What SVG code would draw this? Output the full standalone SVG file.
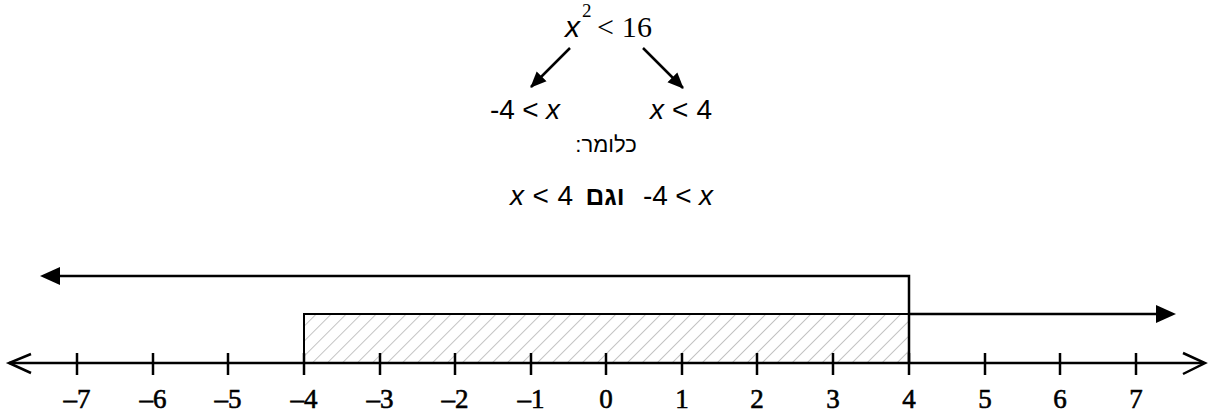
<svg xmlns="http://www.w3.org/2000/svg" width="1208" height="412" viewBox="0 0 1208 412">
<style>
.ln{stroke:#000;stroke-width:2.5;fill:none}
.sans{font-family:"Liberation Sans",Arial,"DejaVu Sans",sans-serif;font-size:28px;fill:#000}
.serif{font-family:"Liberation Serif","Times New Roman",serif;fill:#000}
.it{font-style:italic}
.num{font-family:"Liberation Serif","Times New Roman",serif;font-size:27px;text-anchor:middle;fill:#000;stroke:#000;stroke-width:0.6}
.heb{font-family:"Liberation Sans","DejaVu Sans",sans-serif;fill:#000}
</style>
<defs>
<marker id="ahs" markerWidth="16" markerHeight="16" refX="15" refY="8" orient="auto" markerUnits="userSpaceOnUse" viewBox="0 0 16 16">
<path d="M0,1 L16,8 L0,15 z" fill="#000"/>
</marker>
<pattern id="hatch" width="10.6" height="10.6" patternUnits="userSpaceOnUse" patternTransform="rotate(45)">
<line x1="0" y1="0" x2="0" y2="10.6" stroke="#8a8a8a" stroke-width="1"/>
</pattern>
</defs>

<g id="top-expr">
<text class="sans it" x="565" y="37" style="font-size:30px">x</text>
<text class="serif" x="582" y="17" style="font-size:19px">2</text>
<text class="serif" x="597" y="37" style="font-size:30px" textLength="55" lengthAdjust="spacing">&lt; 16</text>
</g>
<g id="left-expr">
<text class="sans" x="490" y="119" textLength="70" lengthAdjust="spacing">-4 &lt; <tspan class="it">x</tspan></text>
</g>
<g id="right-expr">
<text class="sans" x="650" y="119" textLength="62" lengthAdjust="spacing"><tspan class="it">x</tspan> &lt; 4</text>
</g>
<g id="meaning">
<text class="heb" x="606" y="152" style="font-size:22px" text-anchor="middle" direction="rtl">כלומר:</text>
</g>
<g id="conclusion">
<text class="sans" x="510" y="205" textLength="63" lengthAdjust="spacing"><tspan class="it">x</tspan> &lt; 4</text>
<text class="heb" x="605" y="205" style="font-size:26px;font-weight:bold" text-anchor="middle" direction="rtl">וגם</text>
<text class="sans" x="643" y="205" textLength="70" lengthAdjust="spacing">-4 &lt; <tspan class="it">x</tspan></text>
</g>

<g id="connectors">
<line class="ln" x1="570" y1="48" x2="531" y2="87" marker-end="url(#ahs)"/>
<line class="ln" x1="643" y1="48" x2="683" y2="88" marker-end="url(#ahs)"/>
</g>

<g id="solution-rect">
<rect x="304" y="314" width="605" height="49" fill="url(#hatch)" stroke="#000" stroke-width="2"/>
</g>
<g id="ray-left">
<polyline class="ln" points="909,363 909,276 58,276"/>
<path d="M40,276 L60,267 L60,285 z" fill="#000"/>
</g>
<g id="ray-right">
<line class="ln" x1="909" y1="314" x2="1158" y2="314"/>
<path d="M1176,314 L1156,305 L1156,323 z" fill="#000"/>
</g>

<g id="axis">
<line class="ln" x1="9" y1="363" x2="1204" y2="363"/>
<polyline class="ln" points="31,354 9,363 31,373"/>
<polyline class="ln" points="1183,353 1205,363 1183,374"/>
<g class="ln">
<line x1="77" y1="353" x2="77" y2="375"/>
<line x1="153" y1="353" x2="153" y2="375"/>
<line x1="228" y1="353" x2="228" y2="375"/>
<line x1="304" y1="353" x2="304" y2="375"/>
<line x1="380" y1="353" x2="380" y2="375"/>
<line x1="455" y1="353" x2="455" y2="375"/>
<line x1="531" y1="353" x2="531" y2="375"/>
<line x1="606" y1="353" x2="606" y2="375"/>
<line x1="682" y1="353" x2="682" y2="375"/>
<line x1="757" y1="353" x2="757" y2="375"/>
<line x1="833" y1="353" x2="833" y2="375"/>
<line x1="909" y1="353" x2="909" y2="375"/>
<line x1="985" y1="353" x2="985" y2="375"/>
<line x1="1060" y1="353" x2="1060" y2="375"/>
<line x1="1136" y1="353" x2="1136" y2="375"/>
</g>
<text class="num" x="77" y="408">–7</text>
<text class="num" x="153" y="408">–6</text>
<text class="num" x="228" y="408">–5</text>
<text class="num" x="304" y="408">–4</text>
<text class="num" x="380" y="408">–3</text>
<text class="num" x="455" y="408">–2</text>
<text class="num" x="531" y="408">–1</text>
<text class="num" x="606" y="408">0</text>
<text class="num" x="682" y="408">1</text>
<text class="num" x="757" y="408">2</text>
<text class="num" x="833" y="408">3</text>
<text class="num" x="909" y="408">4</text>
<text class="num" x="985" y="408">5</text>
<text class="num" x="1060" y="408">6</text>
<text class="num" x="1136" y="408">7</text>
</g>
</svg>
